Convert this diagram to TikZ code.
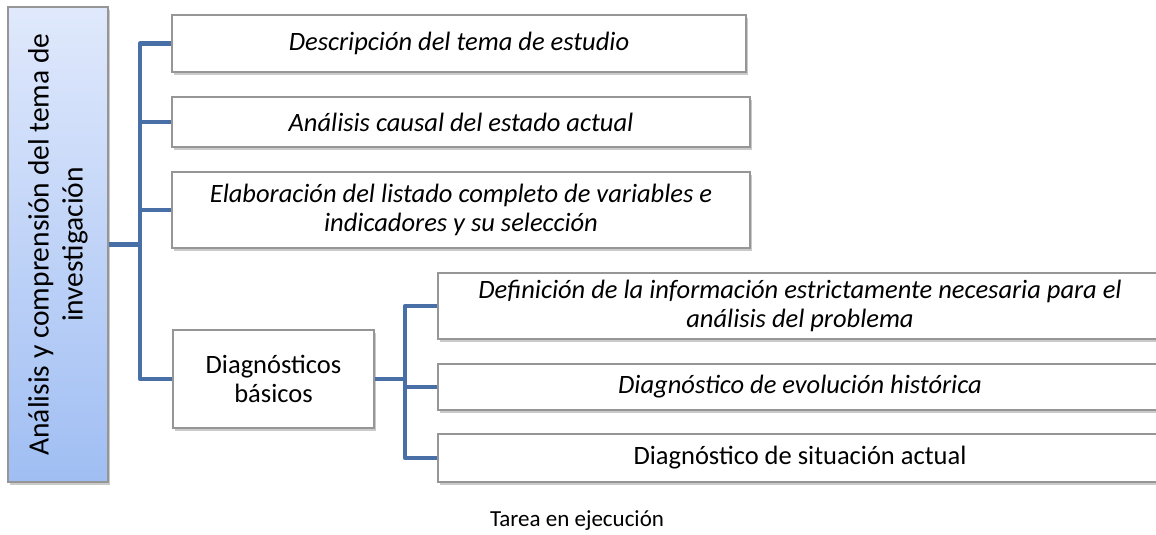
\documentclass[tikz,border=0pt]{standalone}
\usepackage{fontspec}
\setmainfont{Carlito}
\usetikzlibrary{positioning,shadows}
\definecolor{azul}{RGB}{72,112,166}
\definecolor{celeste}{RGB}{224,233,252}
\definecolor{celestef}{RGB}{160,190,243}
\definecolor{grisb}{RGB}{150,150,150}
\tikzset{
  caja/.style={draw=grisb, line width=1.2pt, fill=white, align=center, inner sep=2pt,
    drop shadow={shadow xshift=2pt, shadow yshift=-3pt, opacity=0.35, fill=black!60},
    font=\fontsize{26.5}{29}\selectfont},
  cursiva/.style={caja, font=\fontsize{26.5}{29}\selectfont\itshape},
  raiz/.style={draw=grisb, line width=1.2pt, rotate=90, align=center, inner sep=2pt,
    top color=celeste, bottom color=celestef,
    drop shadow={shadow xshift=2pt, shadow yshift=-3pt, opacity=0.35, fill=black!60},
    font=\fontsize{29.5}{34}\selectfont},
  rama/.style={draw=azul, line width=4.5pt, line join=round},
  et/.style={font=\fontsize{23}{27}\selectfont},
}

\begin{document}
\begin{tikzpicture}[x=1pt,y=-1pt]
  \useasboundingbox (0,0) rectangle (1156,535);
  % raiz
  \node[raiz, minimum width=475pt, minimum height=100pt] (izq) at (58,244.5)
    {Análisis y comprensión del tema de\\investigación};
  % tareas
  \node[cursiva, minimum width=574pt, minimum height=57pt] (d1) at (459,43.5) {Descripción del tema de estudio};
  \node[cursiva, minimum width=578pt, minimum height=50pt] (d2) at (461,122) {Análisis causal del estado actual};
  \node[cursiva, minimum width=578pt, minimum height=76pt] (d3) at (461,210)
    {Elaboración del listado completo de variables e\\indicadores y su selección};
  \node[caja, minimum width=201pt, minimum height=98pt] (d4) at (273.5,379) {Diagnósticos\\básicos};
  % diagnosticos
  \node[cursiva, minimum width=724pt, minimum height=66pt] (s1) at (800,306)
    {Definición de la información estrictamente necesaria para el\\análisis del problema};
  \node[cursiva, minimum width=724pt, minimum height=46pt] (s2) at (800,387) {Diagnóstico de evolución histórica};
  \node[caja, minimum width=724pt, minimum height=48pt] (s3) at (800,458) {Diagnóstico de situación actual};
  \node[et] (pie) at (577,521) {Tarea en ejecución};
  % conectores
  \coordinate (tronco) at (140,0);
  \coordinate (sub) at (405,0);
  \draw[rama] (izq.south) -- (izq.south -| tronco);
  \draw[rama] (d1.west) -- (d1.west -| tronco) -- (d4.west -| tronco) -- (d4.west);
  \draw[rama] (d2.west -| tronco) -- (d2.west);
  \draw[rama] (d3.west -| tronco) -- (d3.west);
  \draw[rama] (d4.east) -- (d4.east -| sub);
  \draw[rama] (s1.west) -- (s1.west -| sub) -- (s3.west -| sub) -- (s3.west);
  \draw[rama] (s2.west -| sub) -- (s2.west);
\end{tikzpicture}
\end{document}
